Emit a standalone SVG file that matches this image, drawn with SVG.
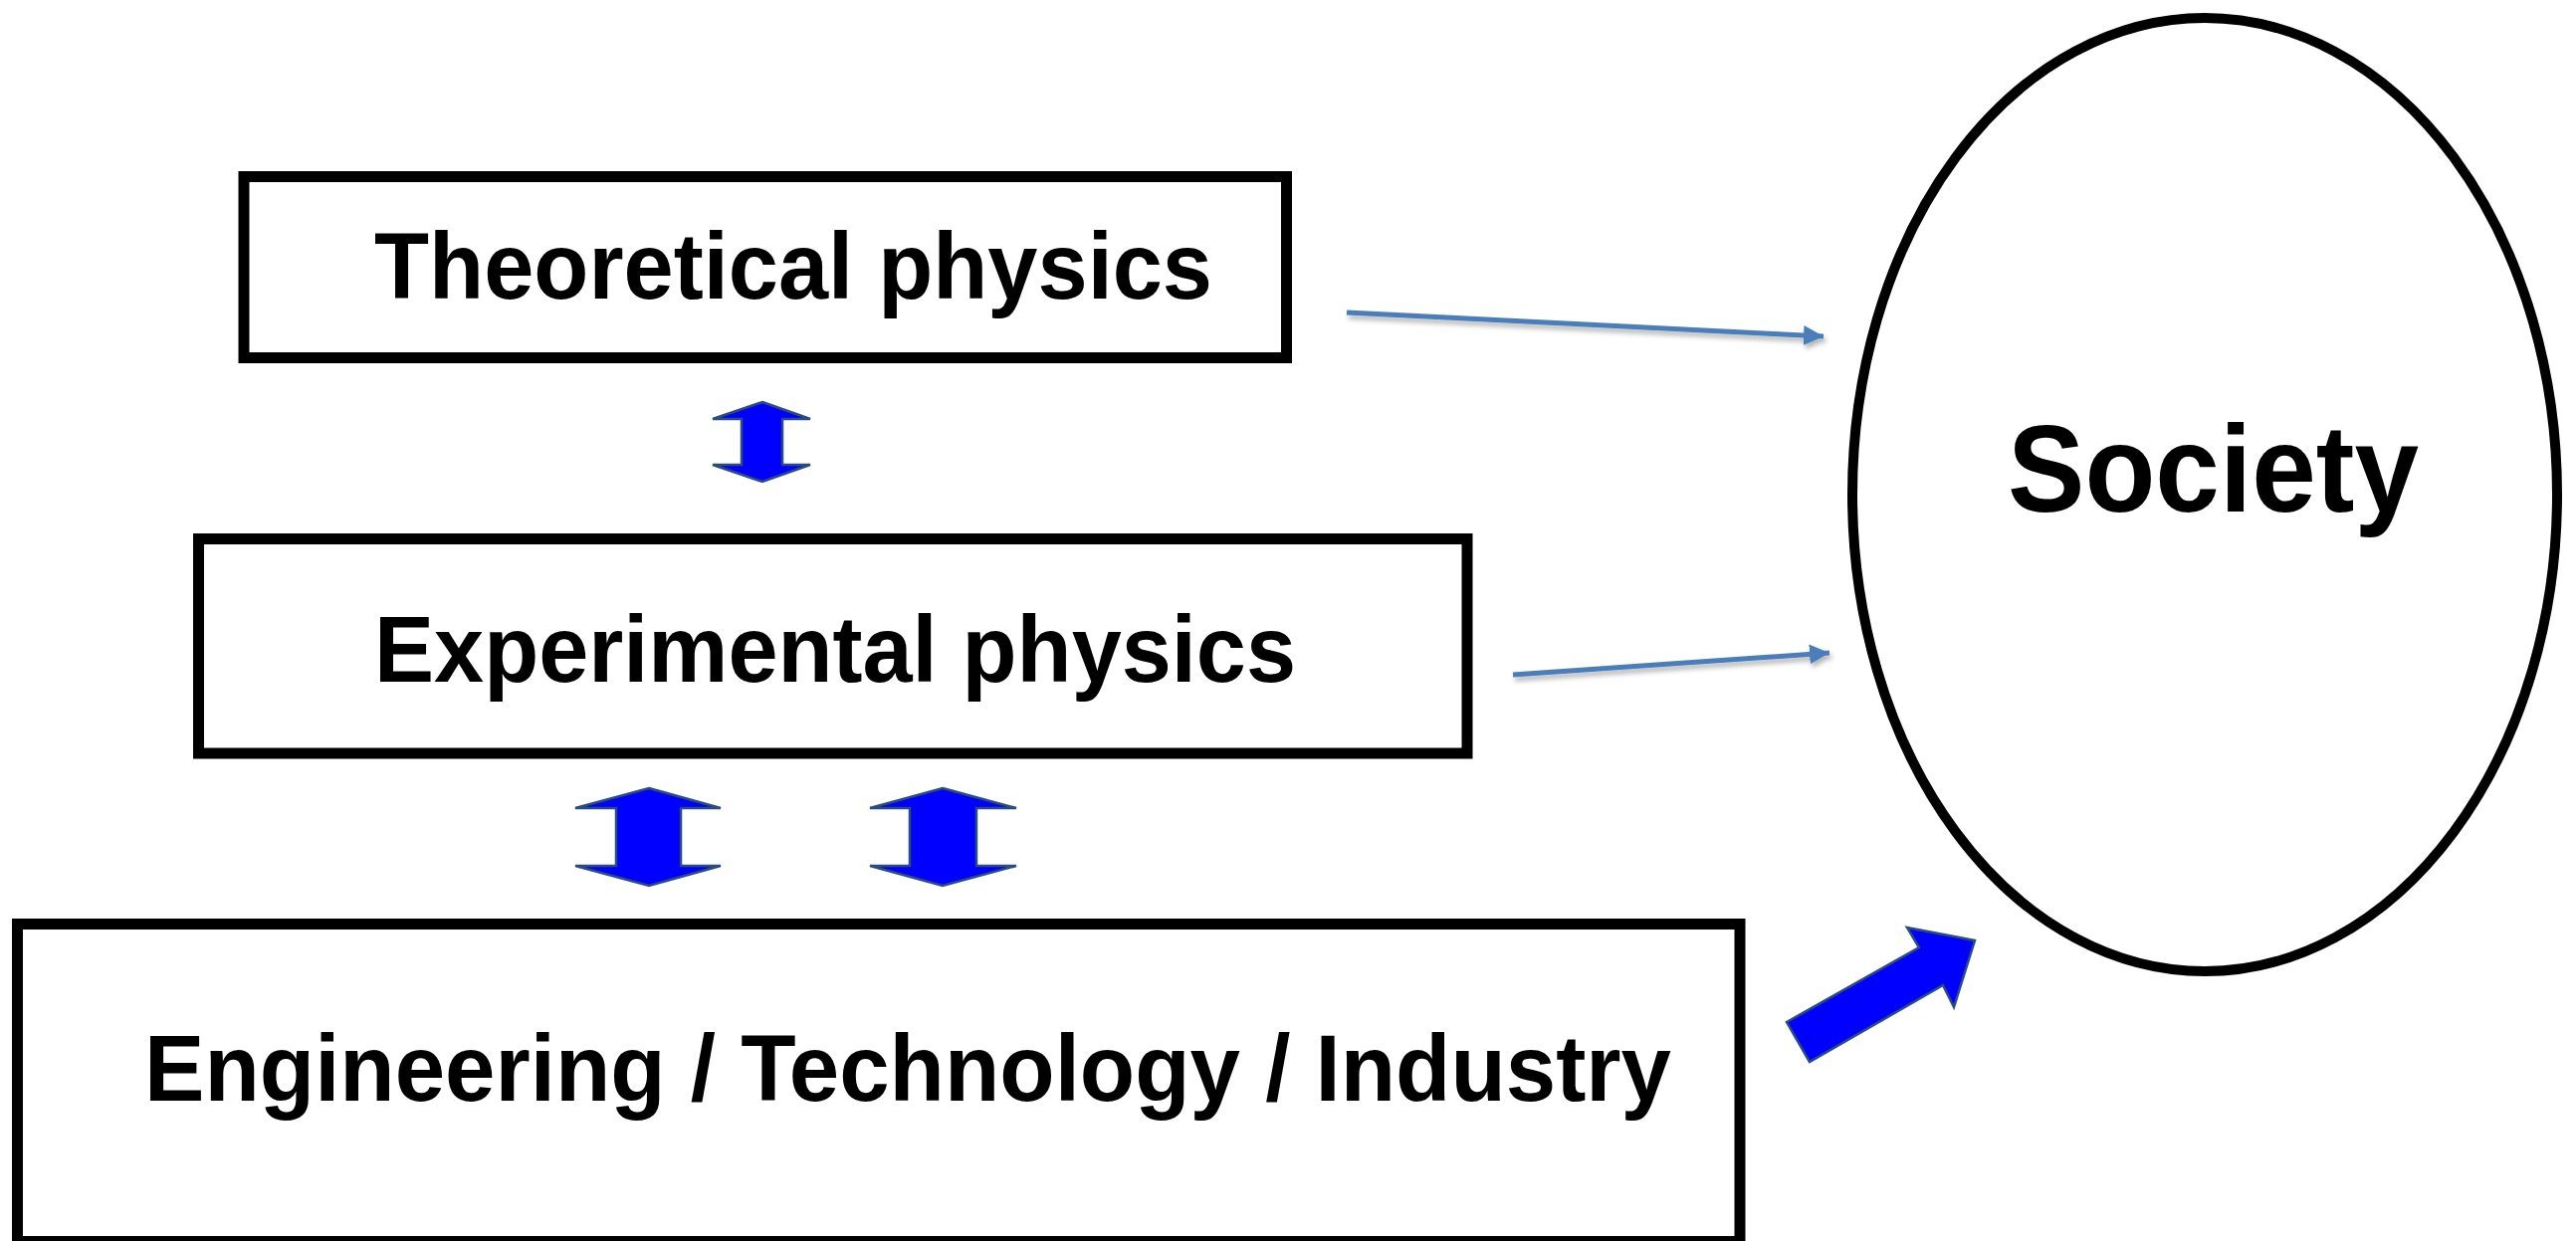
<svg xmlns="http://www.w3.org/2000/svg" width="2588" height="1247" viewBox="0 0 2588 1247">
  <style>
    .box { fill: #ffffff; stroke: #000000; stroke-width: 11; }
    .label { font-family: "Liberation Sans", Arial, sans-serif; font-weight: bold; fill: #000000; }
    .thin { stroke: #4a7ebb; stroke-width: 5; fill: none; }
    .fat { fill: #0000ff; stroke: #2b4d7e; stroke-width: 2.5; stroke-linejoin: miter; }
  </style>
  <defs>
    <marker id="head" markerUnits="userSpaceOnUse" markerWidth="22" markerHeight="22" viewBox="0 0 22 22" refX="20" refY="11" orient="auto">
      <path d="M0,1 L20,11 L0,21 Z" fill="#4a7ebb"/>
    </marker>
    <filter id="shadow" x="-10%" y="-50%" width="120%" height="300%">
      <feDropShadow dx="2" dy="4" stdDeviation="2.5" flood-color="#000000" flood-opacity="0.3"/>
    </filter>
  </defs>
  <rect width="2588" height="1247" fill="#ffffff"/>

  <g id="theoretical">
    <rect class="box" x="245" y="177.5" width="1047.5" height="182"/>
    <text class="label" x="376" y="300" font-size="94" textLength="842" lengthAdjust="spacingAndGlyphs">Theoretical physics</text>
  </g>

  <g id="experimental">
    <rect class="box" x="199.5" y="541.5" width="1274.5" height="215.5"/>
    <text class="label" x="376" y="685" font-size="94" textLength="926" lengthAdjust="spacingAndGlyphs">Experimental physics</text>
  </g>

  <g id="engineering">
    <rect class="box" x="17.5" y="928.5" width="1730.5" height="319"/>
    <text class="label" x="145" y="1106" font-size="94" textLength="1534" lengthAdjust="spacingAndGlyphs">Engineering / Technology / Industry</text>
  </g>

  <g id="society">
    <ellipse cx="2215" cy="497" rx="354" ry="479" fill="#ffffff" stroke="#000000" stroke-width="10"/>
    <text class="label" x="2017" y="514" font-size="124" textLength="413" lengthAdjust="spacingAndGlyphs">Society</text>
  </g>

  <g id="connectors">
    <polygon class="fat" points="766,404 814,421 786,421 786,467 814,467 766,484 716,467 745,467 745,421 716,421"/>
    <polygon class="fat" points="652,792 724,812 684,812 684,870 724,870 652,890 578,870 619,870 619,812 578,812"/>
    <polygon class="fat" points="947,792 1021,812 981,812 981,870 1021,870 947,890 874,870 914,870 914,812 874,812"/>
    <polygon class="fat" points="1795,1027 1928,952 1916,932 1984,945 1963,1012 1952,990 1818,1067"/>
    <line class="thin" x1="1353" y1="314" x2="1832" y2="338" marker-end="url(#head)" filter="url(#shadow)"/>
    <line class="thin" x1="1520" y1="678" x2="1838" y2="656" marker-end="url(#head)" filter="url(#shadow)"/>
  </g>
</svg>
